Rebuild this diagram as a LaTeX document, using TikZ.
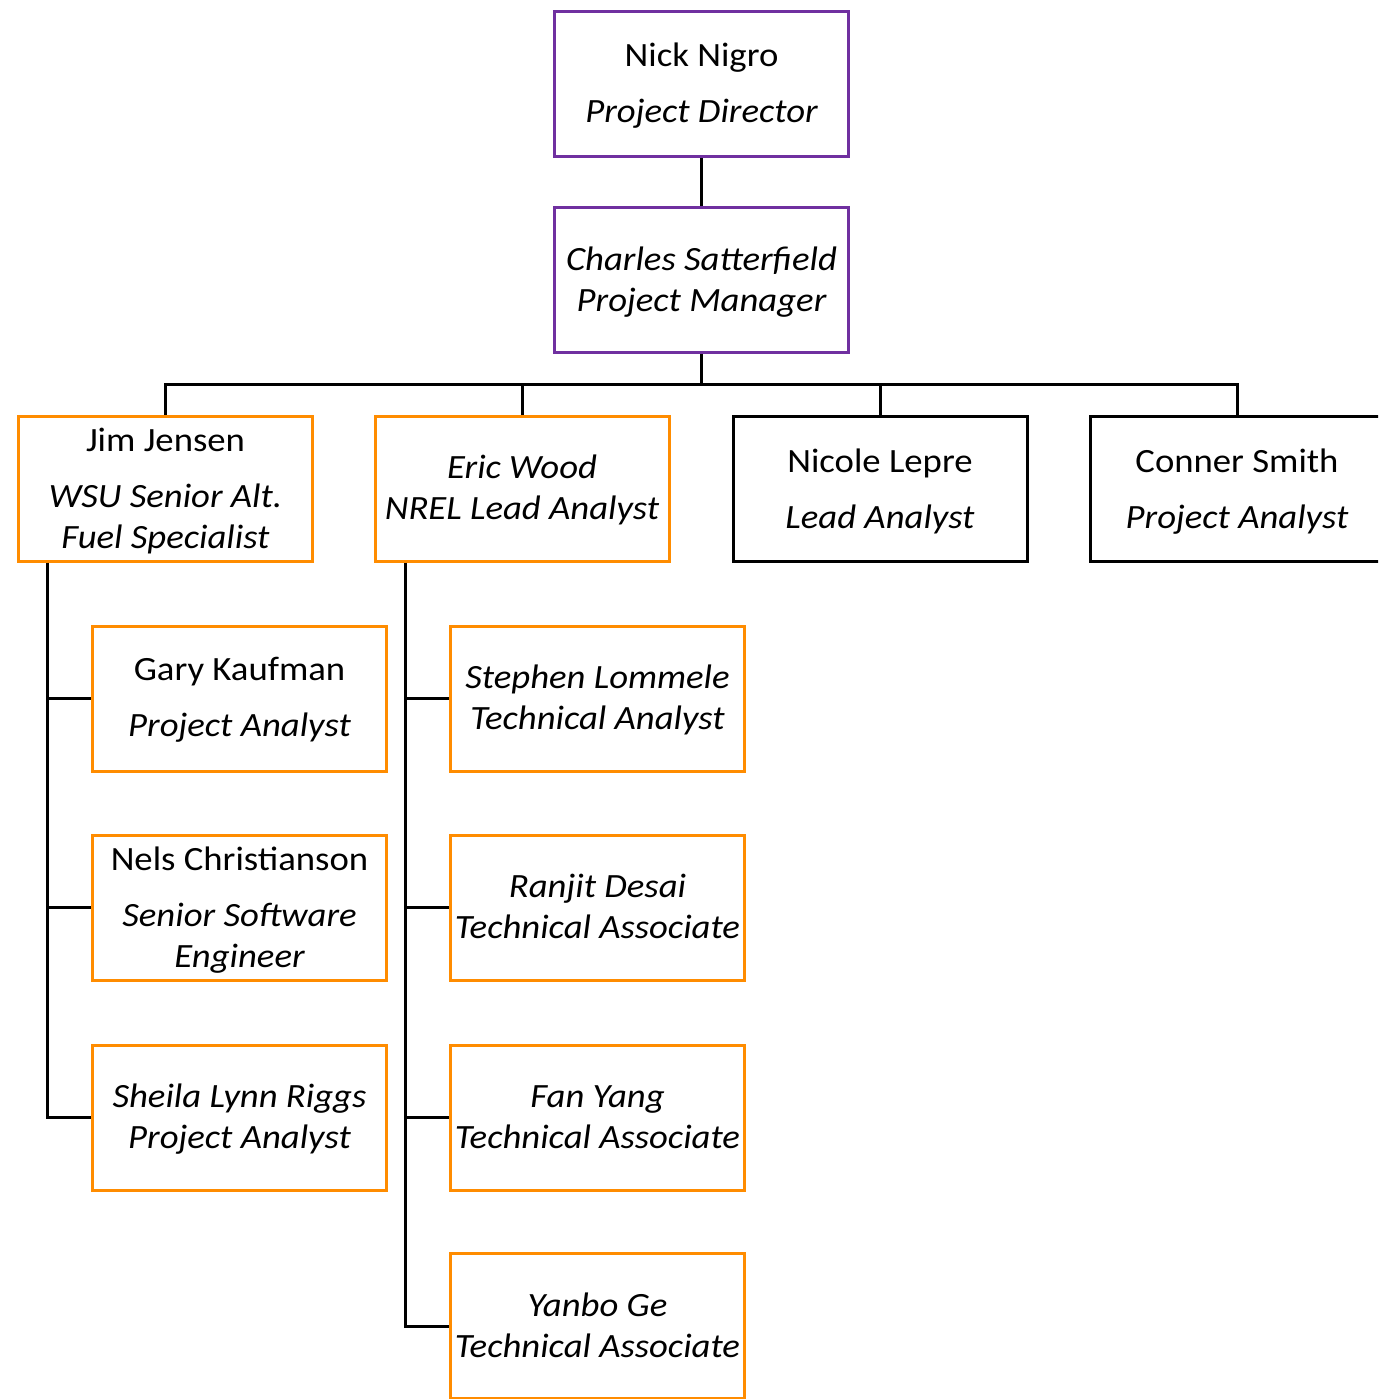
\documentclass[tikz,border=0pt]{standalone}
\usepackage{fontspec}
\setmainfont{Carlito}
\definecolor{mgrpurple}{RGB}{112,48,160}
\definecolor{teamorange}{RGB}{255,140,0}
% slightly widened lettering
\newcommand{\widetxt}[1]{\scalebox{1.08}[1]{#1}}
\tikzset{
  box/.style={draw, line width=3pt, minimum width=294pt, minimum height=145pt, inner sep=0pt, fill=white},
  pbox/.style={box, draw=mgrpurple},
  obox/.style={box, draw=teamorange},
  kbox/.style={box, draw=black},
  txt/.style={anchor=base, inner sep=0pt, font=\fontsize{34}{41}\selectfont},
  role/.style={txt, font=\fontsize{34}{41}\selectfont\itshape},
  link/.style={draw=black, line width=3pt}
}
\begin{document}
\begin{tikzpicture}[x=1pt, y=-1pt]
\useasboundingbox (0,0) rectangle (1378,1399);
\clip (0,0) rectangle (1378,1399);

% boxes
\node[pbox] (nick)    at (701.5,84.5) {};
\node[pbox] (charles) at (701.5,280)  {};
\node[obox] (jim)     at (165.5,488.5) {};
\node[obox] (eric)    at (522,488.5)   {};
\node[kbox] (nicole)  at (880,488.5)   {};
\node[kbox] (conner)  at (1237,488.5)  {};
\node[obox] (gary)    at (239.5,698.5) {};
\node[obox] (nels)    at (239.5,907.5) {};
\node[obox] (sheila)  at (239.5,1117.5) {};
\node[obox] (stephen) at (597.5,698.5) {};
\node[obox] (ranjit)  at (597.5,907.5) {};
\node[obox] (fan)     at (597.5,1117.5) {};
\node[obox] (yanbo)   at (597.5,1326)  {};

% texts
\node[txt]  (nickA)    at (701.5,67)  {\widetxt{Nick Nigro}};
\node[role] (nickB)    at (701.5,123) {\widetxt{Project Director}};
\node[role] (charlesA) at (701.5,270) {\widetxt{Charles Satterfield}};
\node[role] (charlesB) at (701.5,311) {\widetxt{Project Manager}};
\node[txt]  (jimA)     at (165.5,451) {\widetxt{Jim Jensen}};
\node[role] (jimB)     at (165.5,507) {\widetxt{WSU Senior Alt.}};
\node[role] (jimC)     at (165.5,548) {\widetxt{Fuel Specialist}};
\node[role] (ericA)    at (522,478)   {\widetxt{Eric Wood}};
\node[role] (ericB)    at (522,519)   {\widetxt{NREL Lead Analyst}};
\node[txt]  (nicoleA)  at (880,472)   {\widetxt{Nicole Lepre}};
\node[role] (nicoleB)  at (880,528)   {\widetxt{Lead Analyst}};
\node[txt]  (connerA)  at (1237,472)  {\widetxt{Conner Smith}};
\node[role] (connerB)  at (1237,528)  {\widetxt{Project Analyst}};
\node[txt]  (garyA)    at (239.5,680) {\widetxt{Gary Kaufman}};
\node[role] (garyB)    at (239.5,736) {\widetxt{Project Analyst}};
\node[txt]  (nelsA)    at (239.5,870) {\widetxt{Nels Christianson}};
\node[role] (nelsB)    at (239.5,926) {\widetxt{Senior Software}};
\node[role] (nelsC)    at (239.5,967) {\widetxt{Engineer}};
\node[role] (sheilaA)  at (239.5,1107) {\widetxt{Sheila Lynn Riggs}};
\node[role] (sheilaB)  at (239.5,1148) {\widetxt{Project Analyst}};
\node[role] (stephenA) at (597.5,688) {\widetxt{Stephen Lommele}};
\node[role] (stephenB) at (597.5,729) {\widetxt{Technical Analyst}};
\node[role] (ranjitA)  at (597.5,897) {\widetxt{Ranjit Desai}};
\node[role] (ranjitB)  at (597.5,938) {\widetxt{Technical Associate}};
\node[role] (fanA)     at (597.5,1107) {\widetxt{Fan Yang}};
\node[role] (fanB)     at (597.5,1148) {\widetxt{Technical Associate}};
\node[role] (yanboA)   at (597.5,1316) {\widetxt{Yanbo Ge}};
\node[role] (yanboB)   at (597.5,1357) {\widetxt{Technical Associate}};

% connectors
\coordinate (bus) at (701.5,384);
\coordinate (spineJ) at (47,0);
\coordinate (spineE) at (405,0);

\path[link] (nick.south) -- (charles.north);
\path[link] (charles.south) -- (bus);
\path[link] (jim.north) -- (jim.north |- bus) -- (conner.north |- bus) -- (conner.north);
\path[link] (eric.north) -- (eric.north |- bus);
\path[link] (nicole.north) -- (nicole.north |- bus);

\path[link] (jim.south -| spineJ) -- (sheila.west -| spineJ) -- (sheila.west);
\path[link] (gary.west -| spineJ) -- (gary.west);
\path[link] (nels.west -| spineJ) -- (nels.west);

\path[link] (eric.south -| spineE) -- (yanbo.west -| spineE) -- (yanbo.west);
\path[link] (stephen.west -| spineE) -- (stephen.west);
\path[link] (ranjit.west -| spineE) -- (ranjit.west);
\path[link] (fan.west -| spineE) -- (fan.west);
\end{tikzpicture}
\end{document}
